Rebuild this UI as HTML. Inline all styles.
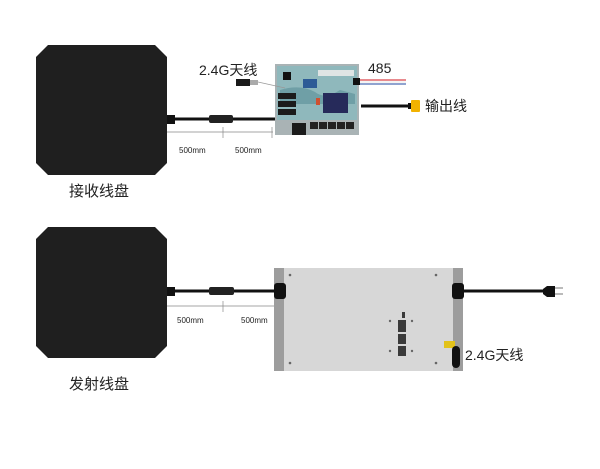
<!DOCTYPE html>
<html><head><meta charset="utf-8"><style>
body{margin:0;width:600px;height:469px;background:#fff;position:relative;overflow:hidden;font-family:"Liberation Sans","Noto Sans CJK SC",sans-serif}
.a{position:absolute}
.t{position:absolute;color:#222;white-space:nowrap}
</style></head><body>
<svg class="a" style="left:0;top:0" width="600" height="469">
<!-- coils -->
<polygon points="48,45 155,45 167,57 167,163 155,175 48,175 36,163 36,57" fill="#1f1f1f"/>
<polygon points="48,227 155,227 167,239 167,346 155,358 48,358 36,346 36,239" fill="#1f1f1f"/>
<!-- top cable -->
<rect x="167" y="115" width="8" height="9" fill="#111"/>
<line x1="175" y1="119" x2="300" y2="119" stroke="#111" stroke-width="3"/>
<rect x="209" y="115" width="24" height="8" rx="2" fill="#222"/>
<line x1="167" y1="132" x2="273" y2="132" stroke="#888" stroke-width="0.7"/>
<line x1="223" y1="127" x2="223" y2="138" stroke="#888" stroke-width="0.7"/>
<line x1="272" y1="127" x2="272" y2="138" stroke="#888" stroke-width="0.7"/>
<!-- PCB -->
<rect x="275" y="64" width="84" height="71" fill="#a9b3b5"/>
<rect x="277" y="66" width="80" height="54" fill="#8fb8bc"/>
<path d="M280,90 q20,-6 35,2 q10,8 25,-2 l15,4 v10 h-75z" fill="#6f9fa6"/>
<rect x="283" y="72" width="8" height="8" fill="#111"/>
<rect x="303" y="79" width="14" height="9" fill="#2d5b96"/>
<rect x="318" y="70" width="36" height="6" fill="#dfe4e4"/>
<rect x="278" y="93" width="18" height="6" fill="#1b1b1b"/>
<rect x="278" y="101" width="18" height="6" fill="#1b1b1b"/>
<rect x="278" y="109" width="18" height="6" fill="#1b1b1b"/>
<rect x="323" y="93" width="25" height="20" fill="#262a5a"/>
<rect x="316" y="98" width="4" height="7" fill="#d05030"/>
<rect x="292" y="123" width="14" height="12" fill="#1b1b1b"/>
<g fill="#222"><rect x="310" y="122" width="8" height="7"/><rect x="319" y="122" width="8" height="7"/><rect x="328" y="122" width="8" height="7"/><rect x="337" y="122" width="8" height="7"/><rect x="346" y="122" width="8" height="7"/></g>
<!-- antenna top -->
<rect x="236" y="79" width="14" height="7" fill="#1a1a1a"/><rect x="250" y="80" width="8" height="5" fill="#aaa"/>
<line x1="258" y1="82" x2="285" y2="88" stroke="#999" stroke-width="0.7"/>
<!-- 485 wire -->
<rect x="353" y="78" width="7" height="7" fill="#111"/>
<line x1="360" y1="80" x2="406" y2="80" stroke="#d9444a" stroke-width="1.3"/>
<line x1="360" y1="82" x2="406" y2="82" stroke="#eee" stroke-width="1.3"/>
<line x1="360" y1="84" x2="406" y2="84" stroke="#4d6cb3" stroke-width="1.3"/>
<!-- output -->
<line x1="361" y1="106" x2="409" y2="106" stroke="#111" stroke-width="3"/>
<rect x="408" y="103" width="3" height="6" fill="#111"/>
<rect x="411" y="100" width="9" height="12" rx="1" fill="#f2b200"/>
<!-- bottom cable -->
<rect x="167" y="287" width="8" height="9" fill="#111"/>
<line x1="175" y1="291" x2="278" y2="291" stroke="#111" stroke-width="3"/>
<rect x="209" y="287" width="25" height="8" rx="2" fill="#222"/>
<line x1="167" y1="306" x2="283" y2="306" stroke="#888" stroke-width="0.7"/>
<line x1="223" y1="301" x2="223" y2="312" stroke="#888" stroke-width="0.7"/>
<!-- box -->
<rect x="274" y="268" width="189" height="103" fill="#d7d7d7"/>
<rect x="274" y="268" width="10" height="103" fill="#9d9d9d"/>
<rect x="453" y="268" width="10" height="103" fill="#9d9d9d"/>
<rect x="274" y="283" width="12" height="16" rx="3" fill="#111"/>
<rect x="452" y="283" width="12" height="16" rx="3" fill="#111"/>
<line x1="464" y1="291" x2="550" y2="291" stroke="#111" stroke-width="3"/>
<path d="M547,286 h8 v11 h-8 l-4,-3 v-5z" fill="#111"/>
<line x1="555" y1="288" x2="563" y2="288" stroke="#777"/><line x1="555" y1="294" x2="563" y2="294" stroke="#777"/>
<g fill="#666"><circle cx="290" cy="275" r="1.3"/><circle cx="436" cy="275" r="1.3"/><circle cx="290" cy="363" r="1.3"/><circle cx="436" cy="363" r="1.3"/><circle cx="390" cy="321" r="1.2"/><circle cx="412" cy="321" r="1.2"/><circle cx="390" cy="351" r="1.2"/><circle cx="412" cy="351" r="1.2"/></g>
<g fill="#3a3a3a"><rect x="402" y="312" width="3" height="6"/><rect x="398" y="320" width="8" height="12"/><rect x="398" y="334" width="8" height="10"/><rect x="398" y="346" width="8" height="10"/></g>
<rect x="444" y="341" width="11" height="7" fill="#e2c21a"/>
<rect x="452" y="346" width="8" height="22" rx="4" fill="#111"/>
</svg>
<div class="t" style="left:199px;top:60px;font-size:14px">2.4G天线</div>
<div class="t" style="left:368px;top:60px;font-size:14px">485</div>
<div class="t" style="left:425px;top:96px;font-size:14px">输出线</div>
<div class="t" style="left:179px;top:146px;font-size:8px">500mm</div>
<div class="t" style="left:235px;top:146px;font-size:8px">500mm</div>
<div class="t" style="left:69px;top:180px;font-size:15px">接收线盘</div>
<div class="t" style="left:177px;top:316px;font-size:8px">500mm</div>
<div class="t" style="left:241px;top:316px;font-size:8px">500mm</div>
<div class="t" style="left:465px;top:345px;font-size:14px">2.4G天线</div>
<div class="t" style="left:69px;top:373px;font-size:15px">发射线盘</div>
</body></html>
